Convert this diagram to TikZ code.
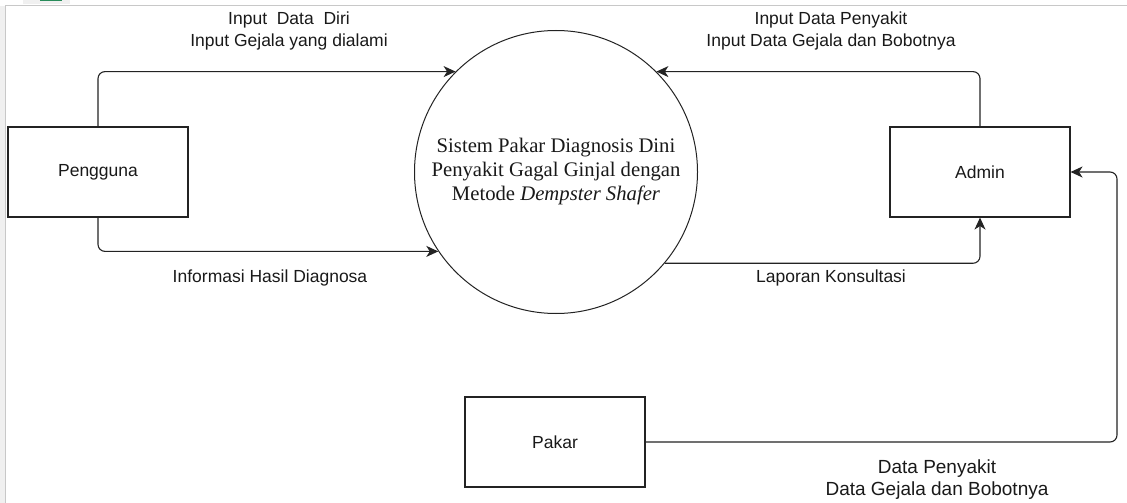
\documentclass[tikz,border=0pt]{standalone}
\usepackage{fontspec}
\setmainfont{Liberation Serif}
\setsansfont{Liberation Sans}
\usepackage{tikz}
\usetikzlibrary{arrows.meta, positioning, calc}
\definecolor{lineblack}{RGB}{35,35,35}
\definecolor{textblack}{RGB}{25,25,25}
\definecolor{framegray}{RGB}{200,200,200}
\definecolor{stripgray}{RGB}{240,240,240}
\definecolor{tabgreen}{RGB}{40,140,90}

\tikzset{
  entity/.style={draw=lineblack, line width=1.1pt, minimum width=180pt, minimum height=90pt,
    font=\sffamily\fontsize{17.5}{21}\selectfont, text=textblack},
  process/.style={draw=lineblack, line width=1pt, circle, minimum size=283pt, align=center,
    font=\rmfamily\fontsize{20.7}{24}\selectfont, text=textblack},
  flow/.style={draw=lineblack, line width=1.1pt, rounded corners=7pt,
    -{Stealth[length=12pt, width=11pt, inset=3.5pt]}},
  flowlabel/.style={align=center, font=\sffamily\fontsize{17.5}{22}\selectfont, text=textblack}
}

\begin{document}
\begin{tikzpicture}[x=1pt, y=-1pt]
  \useasboundingbox (0,0) rectangle (1127,503);

  % window frame
  \fill[stripgray] (0,6) rectangle (5,503);
  \fill[stripgray] (23,0) rectangle (70,4);
  \fill[tabgreen] (40,0) rectangle (62,1.5);
  \draw[framegray, line width=1pt] (5.5,503) -- (5.5,5.5) -- (1127,5.5);

  % process and entities
  \node[process] (sistem) at (556,172)
    {Sistem Pakar Diagnosis Dini\\Penyakit Gagal Ginjal dengan\\Metode \textit{Dempster Shafer}};
  \node[entity] (pengguna) at (98,172) {Pengguna};
  \node[entity] (admin) at (980,172) {Admin};
  \node[entity] (pakar) at (555,442) {Pakar};

  % flows
  \draw[flow] (pengguna.north) |- (sistem.135);
  \draw[flow] (pengguna.south) |- (sistem.214);
  \draw[flow] (admin.north) |- (sistem.45);
  \draw[flow] (sistem.320) -| (admin.south);
  \coordinate (belok) at (1117,442);
  \draw[flow] (pakar.east) -- (belok) |- (admin.east);

  % flow labels
  \node[flowlabel] (lblinput) at (289,31) {Input~ Data~ Diri\\Input Gejala yang dialami};
  \node[flowlabel] (lbladmin) at (831,31) {Input Data Penyakit\\Input Data Gejala dan Bobotnya};
  \node[flowlabel] (lblinfo) at (270,278) {Informasi Hasil Diagnosa};
  \node[flowlabel] (lbllapor) at (831,278) {Laporan Konsultasi};
  \node[flowlabel, font=\sffamily\fontsize{19}{22}\selectfont] (lblpakar) at (937,480)
    {Data Penyakit\\Data Gejala dan Bobotnya};
\end{tikzpicture}
\end{document}
